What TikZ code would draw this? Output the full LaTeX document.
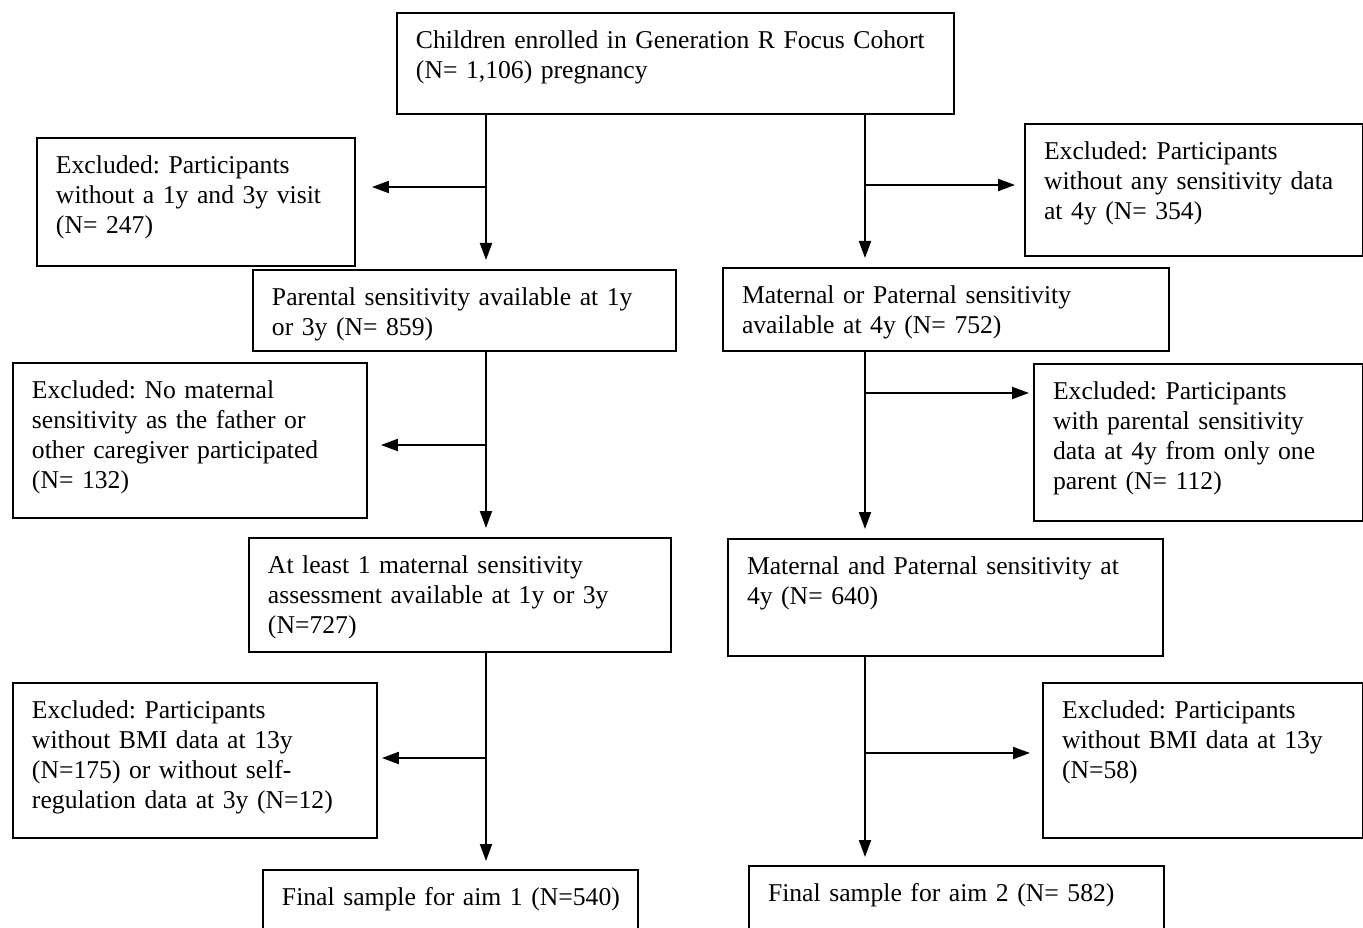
\documentclass[tikz,border=0pt]{standalone}
\usepackage{fontspec}
\setmainfont{Liberation Serif}
\usetikzlibrary{arrows.meta}
\frenchspacing

\begin{document}
\begin{tikzpicture}[x=0.02cm, y=-0.02cm, font=\fontsize{14.6}{17.07}\selectfont,
    >={Triangle[length=0.34cm, width=0.24cm]},
    box/.style={draw, line width=0.04cm, anchor=north west, align=left,
      inner xsep=0.38cm, inner ysep=0.32cm, text height=0.4cm},
    flow/.style={->, line width=0.04cm}]
\clip (0,0) rectangle (1363,928);

% left branch (aim 1)
\node[box, text width=10.38cm, text depth=0.98cm] (enrol) at (396,12)
  {Children enrolled in Generation R Focus Cohort\\(N= 1,106) pregnancy};
\node[box, text width=5.60cm, text depth=1.52cm] (excvisit) at (36,137)
  {Excluded: Participants\\without a 1y and 3y visit\\(N= 247)};
\node[box, text width=7.70cm, text depth=0.58cm] (parsens) at (252,269)
  {Parental sensitivity available at 1y\\or 3y (N= 859)};
\node[box, text width=6.32cm, text depth=2.06cm] (excmat) at (12,362)
  {Excluded: No maternal\\sensitivity as the father or\\other caregiver participated\\(N= 132)};
\node[box, text width=7.68cm, text depth=1.24cm] (matsens) at (248,537)
  {At least 1 maternal sensitivity\\assessment available at 1y or 3y\\(N=727)};
\node[box, text width=6.52cm, text depth=2.06cm] (excbmi) at (12,682)
  {Excluded: Participants\\without BMI data at 13y\\(N=175) or without self-\\regulation data at 3y (N=12)};
\node[box, text width=6.74cm, text depth=0.96cm] (aimone) at (262,869)
  {\mbox{Final sample for aim 1 (N=540)}};

% right branch (aim 2)
\node[box, text width=6.00cm, text depth=1.60cm] (excany) at (1024,123)
  {Excluded: Participants\\without any sensitivity data\\at 4y (N= 354)};
\node[box, text width=8.16cm, text depth=0.62cm] (eithersens) at (722,267)
  {Maternal or Paternal sensitivity\\available at 4y (N= 752)};
\node[box, text width=5.82cm, text depth=2.10cm] (excone) at (1033,363)
  {Excluded: Participants\\with parental sensitivity\\data at 4y from only one\\parent (N= 112)};
\node[box, text width=7.94cm, text depth=1.30cm] (bothsens) at (727,538)
  {Maternal and Paternal sensitivity at\\4y (N= 640)};
\node[box, text width=5.64cm, text depth=2.06cm] (excbmitwo) at (1042,682)
  {Excluded: Participants\\without BMI data at 13y\\(N=58)};
\node[box, text width=7.54cm, text depth=0.96cm] (aimtwo) at (748,865)
  {Final sample for aim 2 (N= 582)};

% trunk points
\coordinate (lx) at (486,0);
\coordinate (rx) at (865,0);
\coordinate (lb1) at (486,187);
\coordinate (lb2) at (486,445);
\coordinate (lb3) at (486,758);
\coordinate (rb1) at (865,185);
\coordinate (rb2) at (865,393);
\coordinate (rb3) at (865,753);

\draw[flow, shorten >=0.18cm] (enrol.south -| lx) -- (parsens.north -| lx);
\draw[flow, shorten >=0.32cm] (lb1) -- (lb1 -| excvisit.east);
\draw[flow, shorten >=0.18cm] (parsens.south -| lx) -- (matsens.north -| lx);
\draw[flow, shorten >=0.26cm] (lb2) -- (lb2 -| excmat.east);
\draw[flow, shorten >=0.16cm] (matsens.south -| lx) -- (aimone.north -| lx);
\draw[flow, shorten >=0.08cm] (lb3) -- (lb3 -| excbmi.east);

\draw[flow, shorten >=0.18cm] (enrol.south -| rx) -- (eithersens.north -| rx);
\draw[flow, shorten >=0.18cm] (rb1) -- (rb1 -| excany.west);
\draw[flow, shorten >=0.18cm] (eithersens.south -| rx) -- (bothsens.north -| rx);
\draw[flow, shorten >=0.08cm] (rb2) -- (rb2 -| excone.west);
\draw[flow, shorten >=0.16cm] (bothsens.south -| rx) -- (aimtwo.north -| rx);
\draw[flow, shorten >=0.24cm] (rb3) -- (rb3 -| excbmitwo.west);
\end{tikzpicture}
\end{document}
